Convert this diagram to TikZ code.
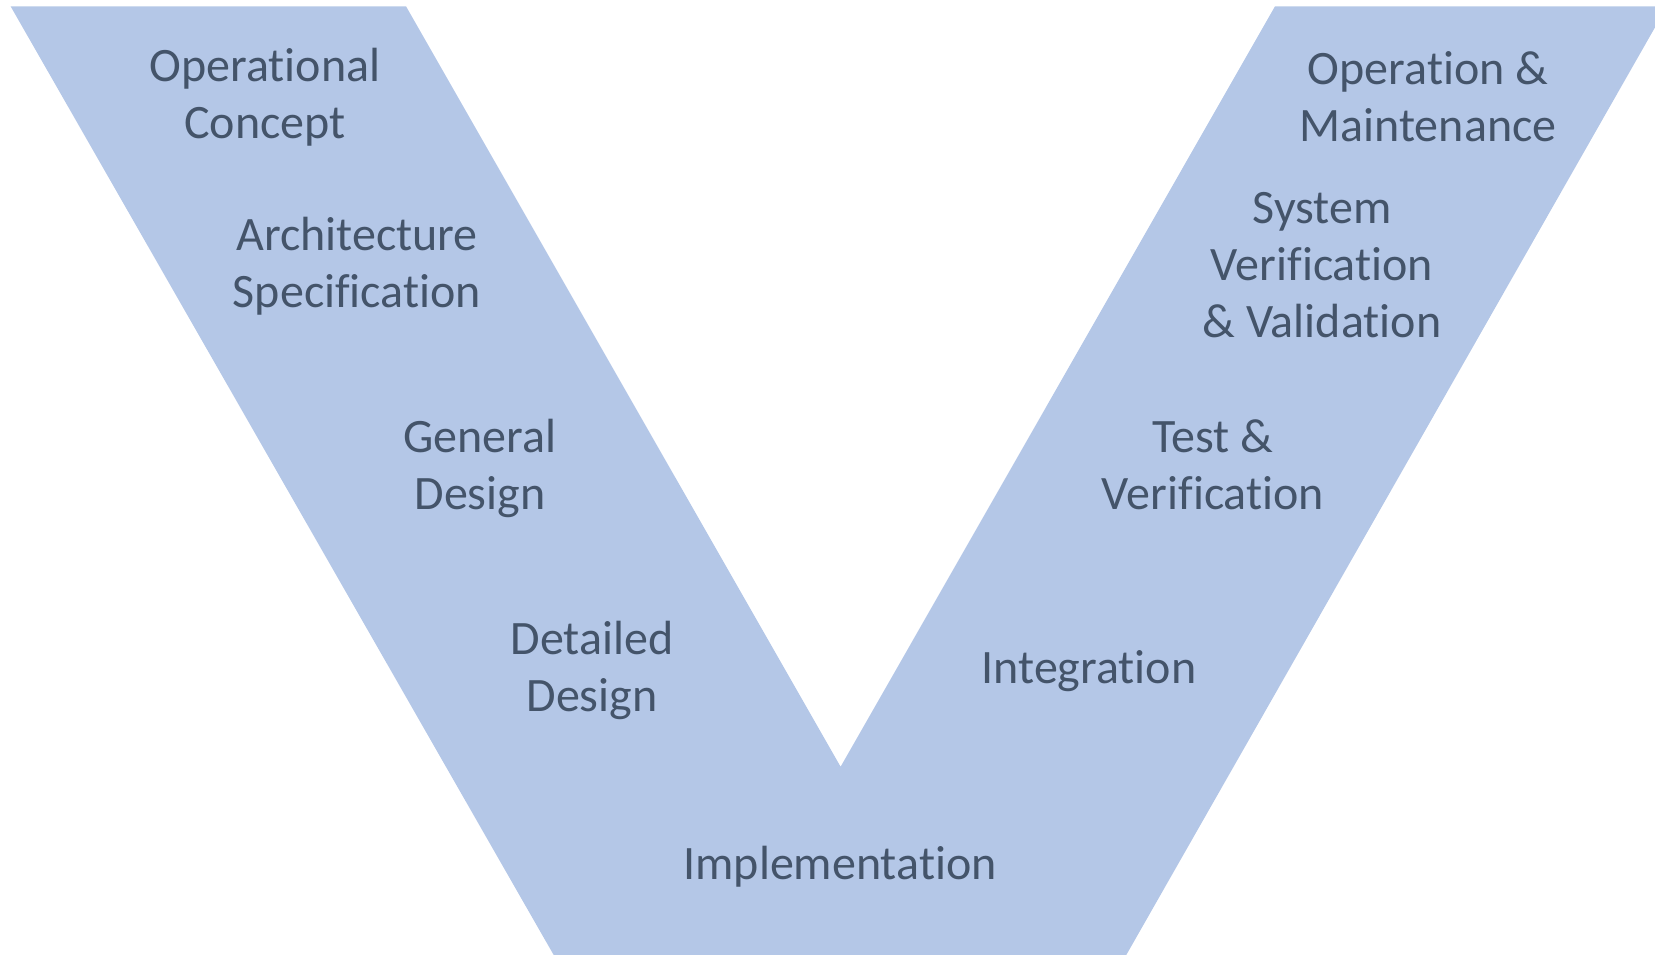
\documentclass[tikz,border=0pt]{standalone}
\usepackage{fontspec}
\setmainfont{Carlito}[Ligatures=NoCommon]
\definecolor{vfill}{HTML}{B4C7E7}
\definecolor{vtext}{HTML}{44546A}
\tikzset{
    phase/.style={text=vtext, align=center, inner sep=0pt,
        font=\fontsize{13.65pt}{16.2pt}\selectfont}
}
\begin{document}
\begin{tikzpicture}[x=0.01cm, y=-0.01cm]
    \useasboundingbox (0, 0) rectangle (1655, 955);
    \clip (0, 0) rectangle (1655, 955);
    \fill[vfill] (10.6, 6.3) -- (406, 6.3) -- (840.6, 766.7) -- (1275, 6.3)
        -- (1667, 6.3) -- (1112, 980) -- (568, 980) -- cycle;

    \node[phase] (opcon) at (265, 97) {Operational\\Concept};
    \node[phase] (arch) at (357, 266) {Architecture\\Specification};
    \node[phase] (gen) at (480, 468) {General\\Design};
    \node[phase] (det) at (592, 670) {Detailed\\Design};
    \node[phase] (impl) at (840, 867) {Implementation};
    \node[phase] (integ) at (1089, 671) {Integration};
    \node[phase] (test) at (1213, 465) {Test \&\\Verification};
    \node[phase] (sysv) at (1322, 265) {System\\Verification\\\& Validation};
    \node[phase] (opmaint) at (1428, 97) {Operation \&\\Maintenance};
\end{tikzpicture}
\end{document}
